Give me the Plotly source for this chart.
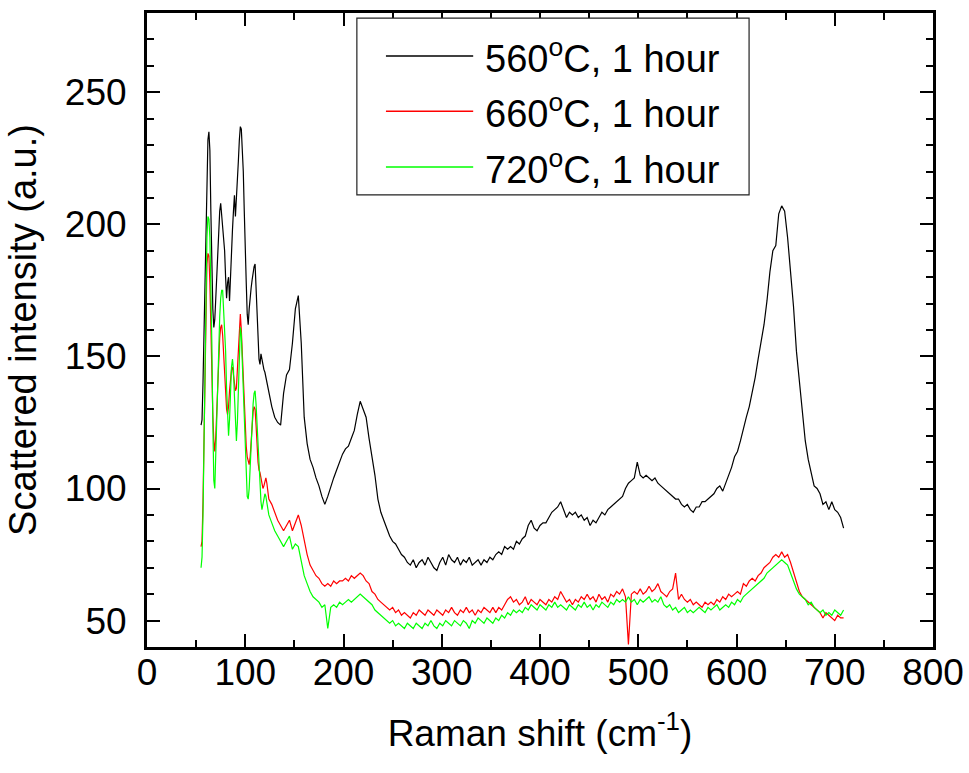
import plotly.graph_objects as go

# ---- data ----
# Raman shift grid: 1 cm-1 steps from 55 to 124, then 3 cm-1 steps from 127 to 709
shift_a = list(range(55, 125))
shift_b = list(range(127, 710, 3))

black_a = [124, 126, 140, 160, 185, 205, 222, 232, 235, 228,
           205, 182, 168, 161, 164, 172, 182, 190, 198, 205,
           208, 203, 200, 196, 190, 180, 172, 178, 180, 171,
           182, 193, 198, 205, 211, 203, 212, 220, 224, 232,
           237, 236, 228, 220, 205, 195, 178, 166, 162, 168,
           174, 176, 179, 182, 184, 185, 176, 166, 155, 149,
           147, 151, 149, 146, 145, 144, 142, 140, 138, 136]
black_b = [131, 127, 125, 124, 136, 143, 145, 155, 168, 173,
           155, 127, 117, 111, 108, 104, 101, 97, 94, 97,
           101, 104, 107, 110, 113, 115, 116, 119, 122, 128,
           133, 130, 127, 119, 112, 105, 96, 91, 88, 85,
           82, 80, 79, 77, 75, 74, 72, 71, 73, 70,
           72, 73, 71, 74, 72, 70, 69, 72, 74, 71,
           75, 73, 72, 74, 71, 73, 72, 74, 71, 72,
           73, 71, 73, 72, 74, 73, 75, 76, 75, 78,
           77, 78, 77, 80, 79, 81, 82, 86, 88, 85,
           84, 86, 87, 87, 89, 91, 92, 93, 95, 92,
           89, 91, 90, 91, 89, 90, 88, 89, 86, 88,
           87, 89, 91, 90, 92, 93, 94, 95, 96, 97,
           100, 102, 103, 104, 110, 105, 104, 105, 104, 103,
           104, 102, 101, 100, 99, 98, 97, 96, 96, 94,
           93, 94, 92, 91, 93, 93, 95, 95, 96, 97,
           98, 100, 101, 99, 102, 105, 108, 112, 114, 118,
           123, 127, 131, 136, 142, 149, 156, 162, 171, 182,
           190, 192, 204, 207, 205, 195, 182, 169, 152, 140,
           127, 118, 111, 106, 101, 100, 98, 94, 95, 92,
           95, 92, 91, 89, 85]

red_a = [78, 80, 95, 120, 150, 172, 185, 189, 188, 178,
         158, 140, 128, 118, 114, 120, 130, 140, 150, 157,
         161, 162, 158, 150, 140, 133, 130, 128, 131, 137,
         142, 145, 146, 143, 140, 137, 138, 145, 155, 163,
         166, 160, 150, 139, 130, 122, 116, 112, 110, 109,
         112, 118, 124, 129, 131, 130, 124, 116, 110, 107,
         106, 104, 102, 100, 101, 103, 104, 102, 99, 96]
red_b = [94, 91, 88, 86, 84, 86, 88, 84, 87, 90,
         86, 80, 75, 71, 69, 67, 66, 64, 63, 64,
         63, 65, 64, 65, 65, 66, 65, 67, 66, 67,
         68, 67, 65, 64, 61, 60, 58, 57, 56, 55,
         54, 55, 53, 54, 52, 53, 52, 51, 53, 52,
         54, 53, 52, 54, 53, 52, 54, 53, 52, 54,
         53, 55, 53, 52, 54, 53, 55, 53, 54, 52,
         54, 53, 55, 54, 53, 55, 53, 55, 54, 56,
         58, 59, 57, 58, 56, 57, 59, 56, 58, 57,
         56, 58, 57, 56, 58, 57, 59, 58, 61, 59,
         57, 58, 56, 58, 57, 59, 58, 60, 58, 59,
         57, 60, 58, 59, 57, 60, 59, 61, 60, 62,
         59, 41, 60, 61, 60, 62, 60, 61, 63, 61,
         62, 64, 61, 60, 59, 61, 62, 68, 58, 60,
         58, 57, 58, 56, 57, 56, 55, 57, 56, 57,
         56, 58, 57, 59, 58, 60, 59, 60, 61, 60,
         64, 63, 65, 66, 65, 67, 68, 70, 71, 72,
         74, 75, 74, 76, 74, 75, 72, 68, 64, 61,
         59, 58, 57, 56, 55, 54, 53, 51, 53, 52,
         51, 50, 52, 51, 51]

green_a = [70, 74, 90, 120, 150, 175, 195, 203, 202, 195,
           180, 155, 125, 103, 100, 115, 130, 142, 155, 165,
           172, 175, 175, 168, 160, 152, 138, 124, 120, 126,
           138, 146, 149, 145, 135, 123, 118, 125, 140, 153,
           161, 158, 148, 138, 128, 115, 104, 97, 96, 100,
           108, 118, 127, 132, 136, 137, 132, 124, 116, 108,
           100, 95, 92, 94, 97, 98, 97, 95, 93, 90]
green_b = [87, 84, 82, 80, 78, 80, 82, 77, 79, 78,
           72, 67, 64, 61, 59, 58, 57, 55, 56, 47,
           55, 56, 55, 57, 56, 57, 58, 57, 58, 59,
           60, 59, 58, 57, 56, 54, 53, 52, 51, 50,
           49, 50, 48, 49, 48, 47, 49, 48, 47, 49,
           48, 47, 49, 48, 50, 48, 47, 49, 48, 50,
           49, 48, 50, 49, 48, 50, 49, 47, 50, 49,
           51, 50, 49, 51, 50, 49, 51, 50, 52, 51,
           53, 52, 54, 53, 54, 53, 55, 54, 56, 55,
           54, 56, 55, 54, 56, 55, 57, 55, 56, 55,
           54, 56, 55, 54, 56, 55, 57, 55, 56, 54,
           56, 55, 57, 56, 55, 57, 56, 58, 57, 58,
           57, 59, 57, 58, 56, 58, 57, 58, 59, 57,
           58, 57, 59, 56, 55, 56, 54, 55, 53, 54,
           55, 53, 54, 53, 54, 55, 54, 53, 55, 54,
           55, 56, 54, 55, 56, 55, 57, 56, 58, 57,
           59, 60, 61, 62, 63, 64, 65, 66, 68, 69,
           70, 71, 72, 73, 72, 71, 68, 65, 62, 60,
           59, 58, 56, 57, 55, 54, 53, 54, 52, 53,
           52, 54, 53, 52, 54]

series_names = ["560<sup>o</sup>C, 1 hour", "660<sup>o</sup>C, 1 hour", "720<sup>o</sup>C, 1 hour"]
series_colors = ["#000000", "#ff0000", "#00ff00"]
series_values = [black_a + black_b, red_a + red_b, green_a + green_b]

x_ticks = [0, 100, 200, 300, 400, 500, 600, 700, 800]
y_ticks = [50, 100, 150, 200, 250]

shift = shift_a + shift_b

FONT = "Liberation Sans, Arial, sans-serif"

fig = go.Figure()
for name, color, vals in zip(series_names, series_colors, series_values):
    fig.add_trace(go.Scatter(x=shift, y=vals, mode="lines", name=name,
                             line=dict(color=color, width=1.2), showlegend=False))

axis_common = dict(
    showgrid=False, zeroline=False, showline=True, linecolor="black", linewidth=3,
    mirror="ticks", ticks="inside", ticklen=13, tickwidth=2, tickcolor="black",
    tickfont=dict(family=FONT, size=37, color="black"),
)

fig.update_xaxes(range=[0, 800], tickvals=x_ticks, ticktext=[str(v) for v in x_ticks],
                 minor=dict(dtick=50, tick0=0, ticks="inside", ticklen=7, tickwidth=2, tickcolor="black"),
                 title=dict(text="Raman shift (cm<sup>-1</sup>)", font=dict(family=FONT, size=37, color="black"),
                            standoff=28),
                 ticklabelstandoff=-9,
                 **axis_common)
fig.update_yaxes(range=[40, 280], tickvals=y_ticks, ticktext=[str(v) for v in y_ticks],
                 minor=dict(dtick=10, tick0=0, ticks="inside", ticklen=7, tickwidth=2, tickcolor="black"),
                 title=dict(text="Scattered intensity (a.u.)", font=dict(family=FONT, size=38, color="black"),
                            standoff=17),
                 ticklabelstandoff=10,
                 **axis_common)

# ---- hand-drawn legend box (long sample lines, like the reference) ----
legend_rows_y = [0.932, 0.845, 0.757]
fig.add_shape(type="rect", xref="paper", yref="paper", x0=0.267, x1=0.766, y0=0.713, y1=0.992,
              line=dict(color="#222222", width=1.2), fillcolor="white", layer="above")
for name, color, yy in zip(series_names, series_colors, legend_rows_y):
    fig.add_shape(type="line", xref="paper", yref="paper", x0=0.304, x1=0.415, y0=yy, y1=yy,
                  line=dict(color=color, width=1.5), layer="above")
    fig.add_annotation(xref="paper", yref="paper", x=0.4275, y=yy, text=name, showarrow=False,
                       xanchor="left", yanchor="middle",
                       font=dict(family=FONT, size=38, color="black"))

fig.update_layout(
    width=969, height=773,
    margin=dict(l=147, r=36, t=13, b=126, autoexpand=False),
    paper_bgcolor="white", plot_bgcolor="white",
    showlegend=False,
)

fig.write_html("out.html")
